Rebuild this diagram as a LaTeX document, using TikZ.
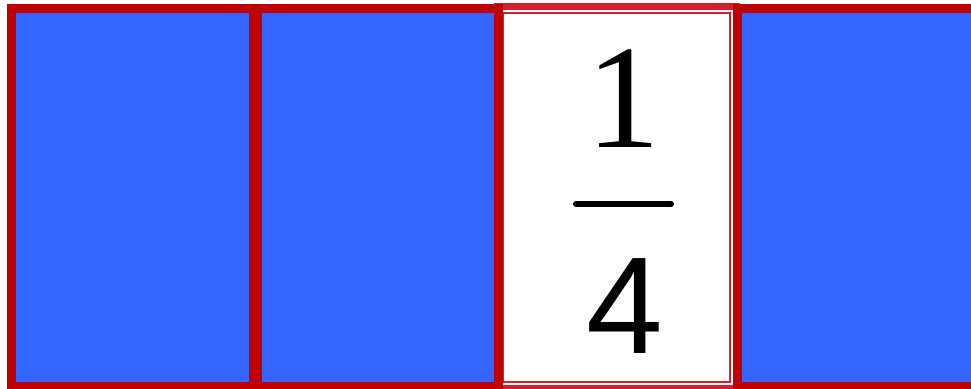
\documentclass[tikz,border=0pt]{standalone}
\usepackage{fontspec}
\setmainfont{Liberation Serif}
\newfontfamily\digitsans{Liberation Sans}
\definecolor{boxred}{RGB}{192,0,0}
\definecolor{lightred}{RGB}{214,30,45}
\definecolor{boxblue}{RGB}{51,102,255}

\begin{document}
\begin{tikzpicture}[x=1pt, y=-1pt,
    box/.style={draw=boxred, line width=9pt, fill=boxblue},
    outerband/.style={draw=lightred, line width=7pt, fill=white},
    innerband/.style={draw=lightred, line width=2pt}]
      \useasboundingbox (0,0) rectangle (971,388);
      \clip (0,0) rectangle (971,388);

      % the shaded strip goes first, its neighbours overlap it
      \draw[outerband] (497.5,6.5) rectangle (736.5,388.5);
      \draw[innerband] (503,12.8) rectangle (730,381.8);
      \draw[box] (11.2,8.5) rectangle (253.5,386.5);
      \draw[box] (257.5,8.5) rectangle (498.5,386.5);
      \draw[box] (737.3,8.5) rectangle (1000,386.5);

      % the fraction
      \node[anchor=base, inner sep=0pt, font=\fontsize{148}{148}\selectfont] (num) at (623,147) {1};
      \node[anchor=base, inner sep=0pt, font=\digitsans\fontsize{138}{138}\selectfont] (den) at (624.5,353) {4};
      \coordinate (barL) at (576,203.7);
      \coordinate (barR) at (671,203.7);
      \draw[line width=6pt, line cap=round] (barL) -- (barR);
    \end{tikzpicture}
\end{document}
